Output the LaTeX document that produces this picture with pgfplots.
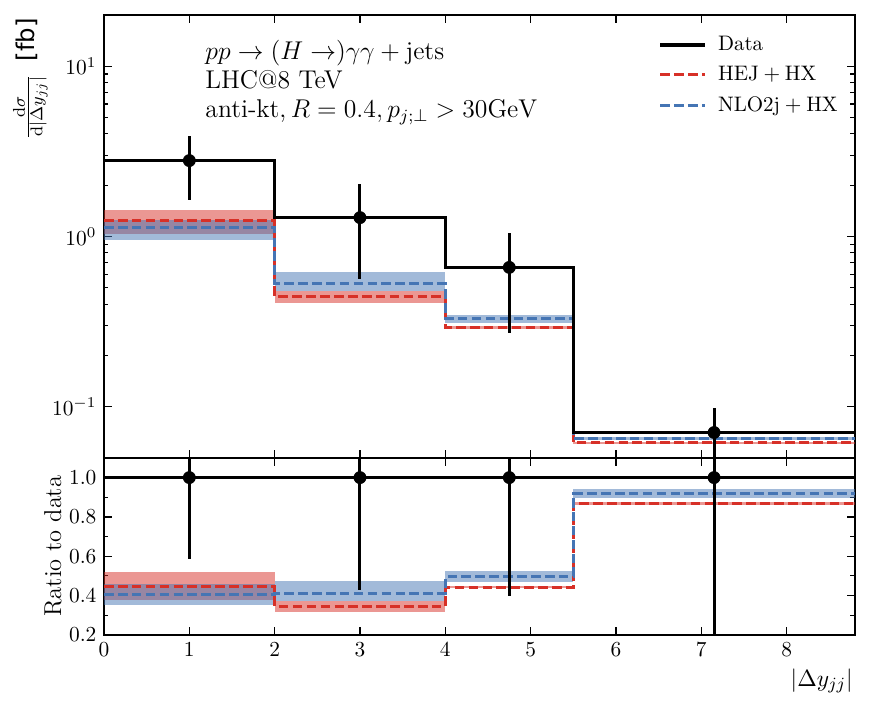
\documentclass[border=0pt]{standalone}
\usepackage{fontspec}
\usepackage{pgfplots}
\pgfplotsset{compat=1.18}
\newfontfamily\dejavu{DejaVu Sans}
\definecolor{hejred}{RGB}{215,48,39}
\definecolor{nloblue}{RGB}{69,117,180}

\pgfplotsset{
  common/.style={
    scale only axis, width=350.9pt, xmin=0, xmax=8.8,
    tick align=inside, xtick pos=both, ytick pos=both,
    major tick length=3.7pt, minor tick length=2.1pt,
    major tick style={line width=0.6pt, black},
    minor tick style={line width=0.5pt, black},
    axis line style={line width=0.8pt},
    tick label style={font=\fontsize{10.3}{12}\selectfont},
    xtick={0,1,2,3,4,5,6,7,8},
  },
  dataline/.style={black, line width=1.6pt},
  hejline/.style={hejred, line width=1.4pt, dash pattern=on 4.5pt off 2pt},
  nloline/.style={nloblue, line width=1.4pt, dash pattern=on 4.5pt off 2pt},
  hejband/.style={fill=hejred, fill opacity=0.5, draw=none, forget plot},
  nloband/.style={fill=nloblue, fill opacity=0.5, draw=none, forget plot},
}

\begin{document}
\begin{tikzpicture}
% ---------------- upper panel ----------------
\begin{axis}[common, name=upper, at={(48.6pt,116.8pt)}, anchor=south west,
  height=207pt, ymode=log, ymin=0.05, ymax=20,
  xticklabels={},
  ytick={0.1,1,10},
  legend style={draw=none, fill=none, at={(0.7377,0.963)}, anchor=north west,
    inner sep=0pt, row sep=1.9pt, font=\fontsize{9.8}{12}\selectfont,
    /tikz/every odd column/.append style={column sep=3.3pt}},
  legend cell align=left,
  legend image code/.code={\draw[#1] (0pt,0pt) -- (21pt,0pt);},
]
\addlegendimage{dataline}
\addlegendentry{Data}
\addlegendimage{hejline}
\addlegendentry{$\mathrm{HEJ}+\mathrm{HX}$}
\addlegendimage{nloline}
\addlegendentry{$\mathrm{NLO2j}+\mathrm{HX}$}

% HEJ bands
\addplot[hejband] coordinates {(0,1.04) (2,1.04) (2,1.435) (0,1.435)} -- cycle;
\addplot[hejband] coordinates {(2,0.405) (4,0.405) (4,0.477) (2,0.477)} -- cycle;
\addplot[hejband] coordinates {(4,0.287) (5.5,0.287) (5.5,0.299) (4,0.299)} -- cycle;
\addplot[hejband] coordinates {(5.5,0.0605) (8.8,0.0605) (8.8,0.0621) (5.5,0.0621)} -- cycle;
% NLO bands
\addplot[nloband] coordinates {(0,0.957) (2,0.957) (2,1.25) (0,1.25)} -- cycle;
\addplot[nloband] coordinates {(2,0.48) (4,0.48) (4,0.615) (2,0.615)} -- cycle;
\addplot[nloband] coordinates {(4,0.31) (5.5,0.31) (5.5,0.347) (4,0.347)} -- cycle;
\addplot[nloband] coordinates {(5.5,0.0633) (8.8,0.0633) (8.8,0.0663) (5.5,0.0663)} -- cycle;

% HEJ and NLO central lines
\addplot[hejline, const plot, forget plot] coordinates {(0,1.245) (2,0.446) (4,0.293) (5.5,0.0613) (8.8,0.0613)};
\addplot[nloline, const plot, forget plot] coordinates {(0,1.13) (2,0.527) (4,0.329) (5.5,0.0648) (8.8,0.0648)};

% Data
\addplot[dataline, const plot, forget plot] coordinates {(0,2.79) (2,1.29) (4,0.658) (5.5,0.0705) (8.8,0.0705)};
\addplot[black, only marks, mark=*, mark size=2.8pt, forget plot,
  error bars/.cd, y dir=both, y explicit,
  error bar style={line width=1.4pt}, error mark=none]
  coordinates {
  (1,2.79) += (0,1.12) -= (0,1.16)
  (3,1.29) += (0,0.73) -= (0,0.73)
  (4.75,0.658) += (0,0.392) -= (0,0.388)
  (7.15,0.0705) += (0,0.0282) -= (0,0.0635)
  };
\end{axis}

% ---------------- lower panel ----------------
\begin{axis}[common, name=lower, at={(48.6pt,34.1pt)}, anchor=south west,
  height=82.7pt, ymin=0.2, ymax=1.1,
  xticklabels={$0$,$1$,$2$,$3$,$4$,$5$,$6$,$7$,$8$},
  ytick={0.2,0.4,0.6,0.8,1.0},
  yticklabels={$0.2$,$0.4$,$0.6$,$0.8$,$1.0$},
  minor ytick={0.3,0.5,0.7,0.9},
]
\addplot[hejband] coordinates {(0,0.375) (2,0.375) (2,0.518) (0,0.518)} -- cycle;
\addplot[hejband] coordinates {(2,0.314) (4,0.314) (4,0.37) (2,0.37)} -- cycle;
\addplot[hejband] coordinates {(4,0.436) (5.5,0.436) (5.5,0.448) (4,0.448)} -- cycle;
\addplot[hejband] coordinates {(5.5,0.862) (8.8,0.862) (8.8,0.876) (5.5,0.876)} -- cycle;

\addplot[nloband] coordinates {(0,0.35) (2,0.35) (2,0.457) (0,0.457)} -- cycle;
\addplot[nloband] coordinates {(2,0.372) (4,0.372) (4,0.476) (2,0.476)} -- cycle;
\addplot[nloband] coordinates {(4,0.471) (5.5,0.471) (5.5,0.527) (4,0.527)} -- cycle;
\addplot[nloband] coordinates {(5.5,0.898) (8.8,0.898) (8.8,0.94) (5.5,0.94)} -- cycle;

\addplot[hejline, const plot] coordinates {(0,0.447) (2,0.346) (4,0.442) (5.5,0.869) (8.8,0.869)};
\addplot[nloline, const plot] coordinates {(0,0.405) (2,0.408) (4,0.497) (5.5,0.919) (8.8,0.919)};

\addplot[dataline] coordinates {(0,1) (8.8,1)};
\addplot[black, only marks, mark=*, mark size=2.8pt,
  error bars/.cd, y dir=both, y explicit,
  error bar style={line width=1.4pt}, error mark=none]
  coordinates {
  (1,1) += (0,0.40) -= (0,0.414)
  (3,1) += (0,0.57) -= (0,0.571)
  (4.75,1) += (0,0.6) -= (0,0.6)
  (7.15,1) += (0,0.4) -= (0,0.9)
  };
\end{axis}

% ---------------- labels and annotations ----------------
\node[anchor=north west, align=left, inner sep=0pt,
  font=\fontsize{12}{13.4}\selectfont] at (95.8pt,312pt)
  {$pp\to(H\to)\gamma\gamma+\mathrm{jets}$\\
   LHC@8 TeV\\
   anti-kt,$\,R=0.4, p_{j;\perp}>30\mathrm{GeV}$};

\node[rotate=90, anchor=south east, inner sep=0pt,
  font=\fontsize{11.4}{13}\selectfont] at (22.4pt,322.4pt)
  {$\frac{\mathrm{d}\sigma}{\mathrm{d}|\Delta y_{jj}|}$\hspace{6pt}{\dejavu [fb]}};

\node[rotate=90, anchor=south, inner sep=0pt,
  font=\fontsize{11.4}{13}\selectfont] at (29pt,75.5pt) {Ratio to data};

\node[anchor=east, inner sep=0pt, font=\fontsize{11.4}{13}\selectfont]
  at (398.6pt,12.6pt) {$|\Delta y_{jj}|$};

\pgfresetboundingbox
\path (0pt,0pt) rectangle (407.5pt,330.8pt);
\end{tikzpicture}
\end{document}
